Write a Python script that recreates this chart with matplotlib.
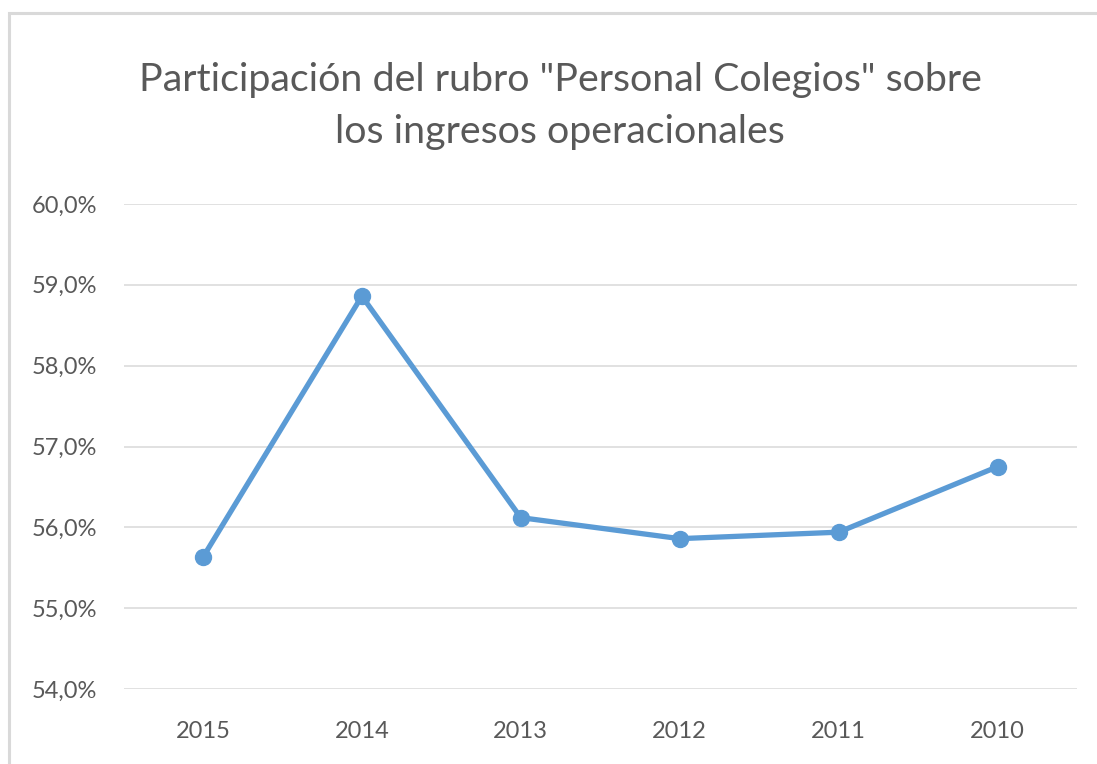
import matplotlib
matplotlib.use("Agg")
import matplotlib.pyplot as plt
from matplotlib.patches import Rectangle
from matplotlib.ticker import FuncFormatter

years = ["2015", "2014", "2013", "2012", "2011", "2010"]
values = [55.63, 58.86, 56.12, 55.86, 55.94, 56.75]
yticks = [54, 55, 56, 57, 58, 59, 60]
title = 'Participación del rubro "Personal Colegios" sobre\nlos ingresos operacionales'

plt.rcParams['font.family'] = ['Lato', 'DejaVu Sans']

W, H = 1097, 764
fig = plt.figure(figsize=(W / 100, H / 100), dpi=100)
fig.patch.set_facecolor('white')

# outer chart border
fig.patches.append(Rectangle((9 / W, -0.1), 1.2, 1 - 13 / H + 0.1, transform=fig.transFigure,
                             fill=False, edgecolor='#d9d9d9', linewidth=2.2, zorder=0))

left, right = 123.5 / W, 1077 / W
bottom, top = 1 - 689 / H, 1 - 204 / H
ax = fig.add_axes([left, bottom, right - left, top - bottom])

x = list(range(len(years)))
ax.plot(x, values, color='#5B9BD5', linewidth=3.8, marker='o', markersize=11.5,
        markerfacecolor='#5B9BD5', markeredgecolor='#5B9BD5', solid_capstyle='round', zorder=3,
        clip_on=False)

ax.set_xlim(-0.5, len(years) - 0.5)
ax.set_ylim(54, 60)
ax.set_yticks(yticks)
ax.yaxis.set_major_formatter(FuncFormatter(lambda v, p: f"{v:.1f}%".replace('.', ',')))
ax.set_xticks(x)
ax.set_xticklabels(years)
ax.grid(axis='y', color='#d9d9d9', linewidth=1.1)
ax.set_axisbelow(True)
for s in ax.spines.values():
    s.set_visible(False)
ax.tick_params(axis='both', length=0, labelsize=17, colors='#595959')
ax.tick_params(axis='y', pad=19)
ax.tick_params(axis='x', pad=23)

fig.text(560 / W, 1 - 106 / H, title, ha='center', va='center', fontsize=28.4,
         color='#595959', linespacing=1.55)

fig.savefig('out.png', dpi=100)
